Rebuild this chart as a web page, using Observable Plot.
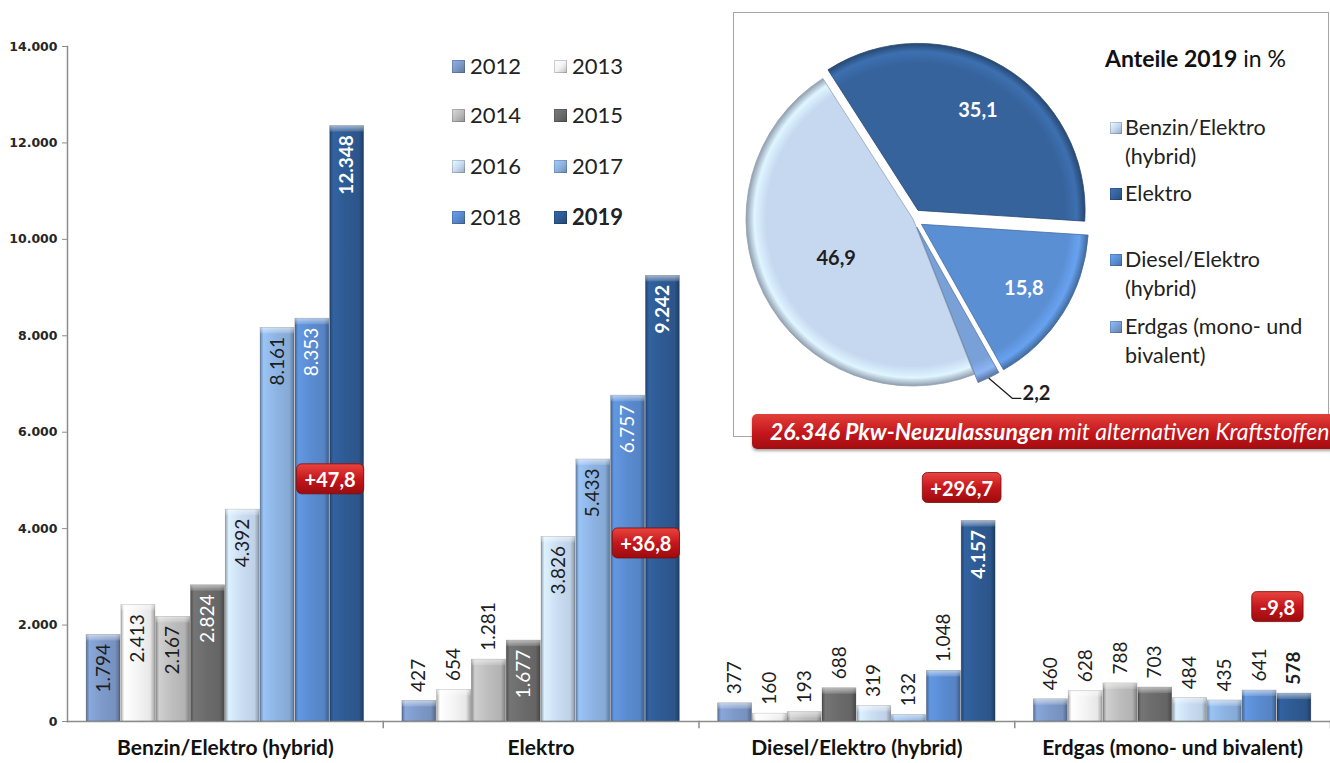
<!DOCTYPE html>
<html>
<head>
<meta charset="utf-8">
<script src="https://cdn.jsdelivr.net/npm/d3@7"></script>
<script src="https://cdn.jsdelivr.net/npm/@observablehq/plot@0.6"></script>
<style>
  html, body { margin: 0; padding: 0; background: #fff; }
  body { font-family: Lato, "Noto Sans", sans-serif; }
  #wrap { position: relative; width: 1330px; height: 763px; overflow: hidden; }
  #main { position: absolute; left: 0; top: 0; }
  .li { position: absolute; font-size: 22px; line-height: 26px; color: #222; display: flex; align-items: center; white-space: nowrap; }
  .sw { width: 13px; height: 13px; margin-right: 5px; box-shadow: inset 0 0 0 1px rgba(0,0,0,0.18); }
  #box { position: absolute; left: 733px; top: 12px; width: 594px; height: 423px; border: 1px solid #a6a6a6; background: #fff; }
  #pie { position: absolute; left: 0; top: 0; }
  #pieTitle { position: absolute; left: 371px; top: 31px; font-size: 23px; color: #111; white-space: nowrap; }
  .pl { position: absolute; left: 376px; font-size: 21.5px; line-height: 29px; color: #222; display: flex; align-items: flex-start; white-space: pre; }
  .pl .sw { margin-top: 9px; width: 12px; height: 12px; margin-right: 3px; }
  #banner { position: absolute; left: 752px; top: 414px; width: 600px; height: 35px; border-radius: 5px;
            background: linear-gradient(#e2403a, #c4161c 55%, #a20d10); box-shadow: 0 2px 3px rgba(0,0,0,0.35);
            color: #fff; font-style: italic; font-size: 23px; line-height: 35px; padding-left: 18px; box-sizing: border-box; white-space: nowrap; }
</style>
</head>
<body>
<div id="wrap">
  <div id="main"></div>
  <div id="legend"></div>
  <div id="box">
    <div id="pie"></div>
    <div id="pieTitle"><b>Anteile 2019</b> in %</div>
    <div id="pieLegend"></div>
  </div>
  <div id="banner"><b>26.346 Pkw-Neuzulassungen</b> mit alternativen Kraftstoffen</div>
</div>
<script>
// ---------------- data ----------------
const categories = ["Benzin/Elektro (hybrid)", "Elektro", "Diesel/Elektro (hybrid)", "Erdgas (mono- und bivalent)"];
const years = ["2012", "2013", "2014", "2015", "2016", "2017", "2018", "2019"];
const benzinElektro = [1794, 2413, 2167, 2824, 4392, 8161, 8353, 12348];
const elektro       = [427, 654, 1281, 1677, 3826, 5433, 6757, 9242];
const dieselElektro = [377, 160, 193, 688, 319, 132, 1048, 4157];
const erdgas        = [460, 628, 788, 703, 484, 435, 641, 578];
const yTicks = [0, 2000, 4000, 6000, 8000, 10000, 12000, 14000];
const changeLabels = ["+47,8", "+36,8", "+296,7", "-9,8"];     // Veränderung 2019 ggü. 2018 in %
const changeLevels = [5000, 3670, 4820, 2350];                  // height of the badge (y units)
const pieNames  = ["Benzin/Elektro\n(hybrid)", "Elektro", "Diesel/Elektro\n(hybrid)", "Erdgas (mono- und\nbivalent)"];
const pieShares = [46.9, 35.1, 15.8, 2.2];
const pieShareLabels = ["46,9", "35,1", "15,8", "2,2"];

// ---------------- styles ----------------
const yearColors = {"2012": "#7d99c8", "2013": "#f4f4f4", "2014": "#bdbdbd", "2015": "#6b6b6b",
                    "2016": "#c9dcf2", "2017": "#8db3e2", "2018": "#5a8bd0", "2019": "#2e5a92"};
const whiteLabelYears = new Set(["2015", "2018", "2019"]);
const pieColors = ["#c5d8f0", "#36639c", "#5b8fd4", "#7aa0d8"];
const pieLabelColors = ["#1e1e1e", "#ffffff", "#ffffff", "#1e1e1e"];
const pieLabelRadius = [0.52, 0.70, 0.72, null];
const pieExplode = [0, 10, 10, 9];

const fmtDE = d3.formatLocale({decimal: ",", thousands: ".", grouping: [3], currency: ["", "€"]}).format(",d");

// ---------------- gradients ----------------
const defs = d3.select("body").append("svg").attr("width", 0).attr("height", 0)
  .style("position", "absolute").append("defs");
function addStops(g, stops) {
  stops.forEach(([o, c, op]) => g.append("stop").attr("offset", o).attr("stop-color", c).attr("stop-opacity", op == null ? 1 : op));
}
years.forEach(y => {
  const c = d3.color(yearColors[y]);
  const g = defs.append("linearGradient").attr("id", "bar" + y).attr("x1", 0).attr("x2", 1).attr("y1", 0).attr("y2", 0);
  addStops(g, [[0, c.darker(0.9).formatHex()], [0.1, c.brighter(0.25).formatHex()], [0.5, c.formatHex()],
               [0.86, c.darker(0.15).formatHex()], [1, c.darker(1.1).formatHex()]]);
});
addStops(defs.append("linearGradient").attr("id", "cap").attr("x1", 0).attr("x2", 0).attr("y1", 0).attr("y2", 1),
  [[0, "#ffffff", 0.55], [1, "#ffffff", 0.12]]);
addStops(defs.append("linearGradient").attr("id", "badge").attr("x1", 0).attr("x2", 0).attr("y1", 0).attr("y2", 1),
  [[0, "#e8453f"], [0.5, "#c5171d"], [1, "#9c0b0e"]]);

// ---------------- main chart ----------------
const series = [benzinElektro, elektro, dieselElektro, erdgas];
const rows = categories.flatMap((cat, ci) => years.map((year, yi) => ({cat, year, value: series[ci][yi]})));
const badges = categories.map((cat, i) => ({cat, year: years[years.length - 1], level: changeLevels[i], label: changeLabels[i]}));
const inside = d => d.value >= 1500;
const common = {fx: "cat", x: "year", y: "value", text: d => fmtDE(d.value), rotate: -90, fontSize: 19};

const main = Plot.plot({
  width: 1330, height: 763,
  marginLeft: 67, marginRight: 0, marginTop: 46, marginBottom: 42,
  style: {fontFamily: "Lato, sans-serif", background: "transparent", overflow: "visible"},
  fx: {domain: categories, padding: 0, round: false},
  x: {domain: years, paddingInner: 0.025, paddingOuter: 0.55, round: false, axis: null},
  y: {domain: [0, 14000], axis: null},
  marks: [
    Plot.barY(rows, {fx: "cat", x: "year", y: "value", fill: d => `url(#bar${d.year})`, stroke: "rgba(0,0,0,0.22)", strokeWidth: 0.8}),
    Plot.barY(rows, {fx: "cat", x: "year", y1: "value", y2: "value", insetBottom: -6, fill: "url(#cap)"}),
    Plot.frame({anchor: "bottom", facet: "super", stroke: "#8c8c8c", strokeWidth: 1.5}),
    Plot.frame({anchor: "left", facet: "super", stroke: "#8c8c8c", strokeWidth: 1.5}),
    Plot.frame({anchor: "right", insetTop: 675, insetBottom: -6, stroke: "#8c8c8c", strokeWidth: 1.5}),
    Plot.axisY({ticks: yTicks, tickFormat: d => fmtDE(d), tickSize: 5, tickPadding: 5, label: null,
                fontFamily: "DejaVu Sans, Verdana, sans-serif", fontSize: 12.5, fontWeight: "bold", stroke: "#8c8c8c", fill: "#262626"}),
    Plot.axisFx({anchor: "bottom", tickSize: 0, tickPadding: 19, label: null, fontSize: 21, fontWeight: "bold", fill: "#111"}),
    // value labels
    Plot.text(rows, {...common, filter: d => inside(d) && !whiteLabelYears.has(d.year), textAnchor: "end", dy: 9, fill: "#1e1e1e"}),
    Plot.text(rows, {...common, filter: d => inside(d) && whiteLabelYears.has(d.year) && d.year !== "2019", textAnchor: "end", dy: 9, fill: "#ffffff"}),
    Plot.text(rows, {...common, filter: d => inside(d) && d.year === "2019", textAnchor: "end", dy: 9, fill: "#ffffff", fontWeight: "bold"}),
    Plot.text(rows, {...common, filter: d => !inside(d) && d.year !== "2019", textAnchor: "start", dy: -9, fill: "#1e1e1e"}),
    Plot.text(rows, {...common, filter: d => !inside(d) && d.year === "2019", textAnchor: "start", dy: -9, fill: "#1e1e1e", fontWeight: "bold"}),
    // change badges
    Plot.text(badges, {fx: "cat", x: "year", y: "level", text: "label", dx: -17, fill: "#ffffff", fontSize: 20, fontWeight: "bold"})
  ]
});
document.getElementById("main").appendChild(main);

// badge backgrounds
const badgeSet = new Set(changeLabels);
main.querySelectorAll("text").forEach(t => {
  if (!badgeSet.has(t.textContent)) return;
  const b = t.getBBox();
  const r = document.createElementNS("http://www.w3.org/2000/svg", "rect");
  r.setAttribute("x", b.x - 8); r.setAttribute("width", b.width + 16);
  r.setAttribute("y", b.y + b.height / 2 - 15); r.setAttribute("height", 30);
  r.setAttribute("rx", 5); r.setAttribute("fill", "url(#badge)");
  r.setAttribute("stroke", "#7d0a0a"); r.setAttribute("stroke-width", 0.8);
  r.setAttribute("transform", t.getAttribute("transform"));
  t.parentNode.insertBefore(r, t);
});

// year legend
const legend = d3.select("#legend");
const legendRowY = [66, 115, 166, 217];
const legendColX = [452, 554];
years.forEach((y, i) => {
  const c = d3.color(yearColors[y]);
  const item = legend.append("div").attr("class", "li")
    .style("left", legendColX[i % 2] + "px").style("top", (legendRowY[Math.floor(i / 2)] - 13) + "px");
  item.append("div").attr("class", "sw")
    .style("background", `linear-gradient(135deg, ${c.brighter(0.4).formatHex()}, ${c.formatHex()} 50%, ${c.darker(0.7).formatHex()})`);
  item.append("span").style("font-weight", y === "2019" ? "bold" : "normal").text(y);
});

// ---------------- pie ----------------
const pieW = 594, pieH = 423, pieR = 167, pieCx = 179, pieCy = 206;
const start = 158.5 * Math.PI / 180;
const arcs = d3.pie().sort(null).startAngle(start).endAngle(start + 2 * Math.PI)(pieShares);
const mids = arcs.map(a => (a.startAngle + a.endAngle) / 2);
const unit = (ang, r) => ({x: r * Math.sin(ang), y: r * Math.cos(ang)});
const explodeU = i => unit(mids[i], pieExplode[i] / pieR);

pieColors.forEach((col, i) => {
  const c = d3.color(col);
  addStops(defs.append("radialGradient").attr("id", "pie" + i).attr("gradientUnits", "userSpaceOnUse")
    .attr("cx", 0).attr("cy", 0).attr("r", pieR),
    [[0, c.formatHex()], [0.88, c.formatHex()], [0.95, c.brighter(0.35).formatHex()], [1, c.darker(0.9).formatHex()]]);
});

const sliceLabels = pieShares.map((s, i) => {
  if (pieLabelRadius[i] == null) return null;
  const p = unit(mids[i], pieLabelRadius[i]), e = explodeU(i);
  return {x: p.x + e.x, y: p.y + e.y, label: pieShareLabels[i], fill: pieLabelColors[i]};
}).filter(Boolean);
// leader line for the small slice (Erdgas)
const k = 3;
const s0 = unit(mids[k], 1.0), ek = explodeU(k);
const lead0 = {x: s0.x + ek.x, y: s0.y + ek.y};
const leader = [lead0, {x: lead0.x + 0.14, y: lead0.y - 0.12}, {x: lead0.x + 0.19, y: lead0.y - 0.12}];
const smallLabel = [{x: lead0.x + 0.2, y: lead0.y - 0.09, label: pieShareLabels[k]}];

function slices(index, scales) {
  const g = d3.create("svg:g");
  const cx = scales.x(0), cy = scales.y(0), R = scales.x(1) - scales.x(0);
  const arc = d3.arc().innerRadius(0).outerRadius(R);
  arcs.forEach((a, i) => {
    const off = pieExplode[i];
    g.append("path").attr("d", arc(a))
      .attr("transform", `translate(${cx + off * Math.sin(mids[i])},${cy - off * Math.cos(mids[i])})`)
      .attr("fill", `url(#pie${i})`)
      .attr("stroke", d3.color(pieColors[i]).darker(0.8).formatHex()).attr("stroke-width", 0.8);
  });
  return g.node();
}

const pie = Plot.plot({
  width: pieW, height: pieH, margin: 0,
  style: {fontFamily: "Lato, sans-serif", background: "transparent", overflow: "visible"},
  x: {domain: [-pieCx / pieR, (pieW - pieCx) / pieR], axis: null},
  y: {domain: [-(pieH - pieCy) / pieR, pieCy / pieR], axis: null},
  marks: [
    slices,
    Plot.line(leader, {x: "x", y: "y", stroke: "#1e1e1e", strokeWidth: 1.3}),
    Plot.text(sliceLabels, {x: "x", y: "y", text: "label", fill: "fill", fontSize: 20, fontWeight: "bold"}),
    Plot.text(smallLabel, {x: "x", y: "y", text: "label", fill: "#1e1e1e", fontSize: 20, fontWeight: "bold", textAnchor: "start"})
  ]
});
document.getElementById("pie").appendChild(pie);

// pie legend
const pieLegendY = [100, 166, 232, 299];
const pl = d3.select("#pieLegend");
pieNames.forEach((n, i) => {
  const c = d3.color(pieColors[i]);
  const item = pl.append("div").attr("class", "pl").style("top", pieLegendY[i] + "px");
  item.append("div").attr("class", "sw")
    .style("background", `linear-gradient(135deg, ${c.brighter(0.5).formatHex()}, ${c.formatHex()} 50%, ${c.darker(0.7).formatHex()})`);
  item.append("span").text(n);
});
</script>
</body>
</html>
